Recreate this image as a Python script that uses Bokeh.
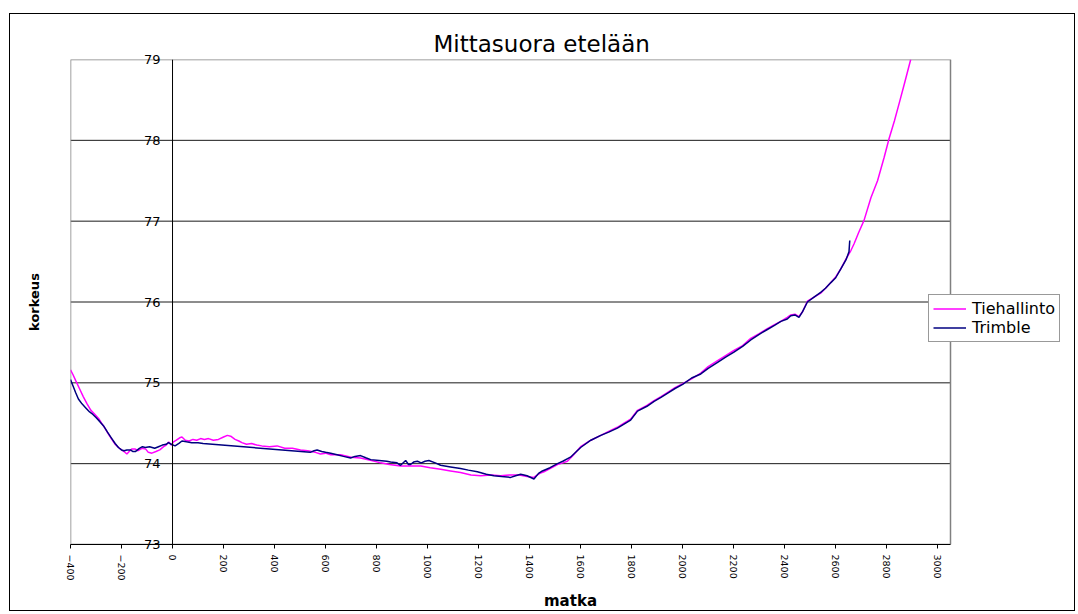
from bokeh.plotting import figure
from bokeh.models import Range1d, FixedTicker, Span, Legend, LegendItem
from bokeh.embed import file_html
from bokeh.resources import INLINE

title_text = "Mittasuora etelään"
x_title = "matka"
y_title = "korkeus"
series_names = ["Tiehallinto", "Trimble"]

x_ticks = [-400, -200, 0, 200, 400, 600, 800, 1000, 1200, 1400, 1600, 1800,
           2000, 2200, 2400, 2600, 2800, 3000]
y_ticks = [73, 74, 75, 76, 77, 78, 79]

tie_x = [-400, -390, -380, -365, -350, -335, -320, -305, -290, -278, -265, -250,
         -238, -225, -212, -200, -190, -179, -170, -160, -146, -135, -120, -105,
         -95, -81, -65, -50, -35, -25, -15, -5, 4, 15, 28, 37, 50, 65, 80, 95,
         110, 125, 141, 160, 180, 200, 215, 228, 245, 260, 272, 290, 310, 330,
         350, 380, 410, 440, 470, 502, 530, 560, 580, 600, 620, 659, 700, 737,
         780, 816, 850, 894, 930, 973, 1010, 1051, 1090, 1129, 1170, 1208, 1250,
         1286, 1320, 1360, 1390, 1416, 1440, 1456, 1480, 1509, 1530, 1548, 1570,
         1600, 1640, 1679, 1710, 1744, 1770, 1796, 1823, 1860, 1888, 1915, 1940,
         1970, 2000, 2035, 2071, 2100, 2140, 2170, 2201, 2235, 2267, 2300, 2332,
         2360, 2385, 2410, 2424, 2440, 2456, 2470, 2489, 2515, 2541, 2560, 2581,
         2600, 2620, 2640, 2660, 2672, 2690, 2711, 2738, 2764, 2790, 2809, 2830,
         2849, 2870, 2894]
tie_y = [75.16, 75.10, 75.03, 74.93, 74.83, 74.74, 74.66, 74.61, 74.56, 74.50,
         74.44, 74.36, 74.30, 74.24, 74.20, 74.17, 74.15, 74.12, 74.15, 74.18,
         74.18, 74.16, 74.19, 74.18, 74.14, 74.13, 74.15, 74.17, 74.21, 74.23,
         74.27, 74.23, 74.27, 74.29, 74.32, 74.33, 74.29, 74.28, 74.30, 74.29,
         74.31, 74.30, 74.31, 74.29, 74.30, 74.33, 74.35, 74.34, 74.30, 74.28,
         74.26, 74.24, 74.25, 74.23, 74.22, 74.21, 74.22, 74.19, 74.19, 74.17,
         74.16, 74.14, 74.12, 74.13, 74.11, 74.11, 74.08, 74.07, 74.04, 74.01,
         73.99, 73.97, 73.97, 73.97, 73.95, 73.93, 73.91, 73.89, 73.86, 73.85,
         73.86, 73.85, 73.86, 73.86, 73.84, 73.83, 73.88, 73.90, 73.94, 73.99,
         74.01, 74.03, 74.10, 74.21, 74.29, 74.35, 74.40, 74.45, 74.50, 74.55,
         74.66, 74.72, 74.78, 74.83, 74.88, 74.94, 74.99, 75.05, 75.12, 75.20,
         75.28, 75.34, 75.40, 75.46, 75.55, 75.61, 75.67, 75.72, 75.76, 75.81,
         75.84, 75.85, 75.82, 75.88, 76.01, 76.06, 76.11, 76.17, 76.24, 76.31,
         76.41, 76.53, 76.64, 76.72, 76.86, 77.01, 77.29, 77.50, 77.79, 78.02,
         78.24, 78.46, 78.71, 79.00]

trim_x = [-400, -390, -380, -369, -355, -340, -325, -316, -300, -285, -271, -255,
          -240, -225, -212, -200, -190, -179, -165, -155, -146, -130, -118, -107,
          -90, -70, -55, -40, -25, -16, -5, 10, 25, 37, 55, 75, 100, 120, 540,
          555, 567, 585, 600, 620, 645, 670, 698, 715, 737, 760, 777, 810, 840,
          855, 880, 894, 914, 925, 933, 945, 960, 975, 990, 1005, 1030, 1051,
          1090, 1129, 1160, 1195, 1230, 1260, 1290, 1326, 1345, 1365, 1390, 1417,
          1435, 1450, 1480, 1509, 1530, 1560, 1600, 1640, 1679, 1710, 1744, 1770,
          1796, 1823, 1860, 1888, 1915, 1940, 1970, 2000, 2035, 2071, 2100, 2140,
          2170, 2201, 2235, 2267, 2300, 2332, 2360, 2385, 2410, 2424, 2440, 2456,
          2470, 2489, 2515, 2541, 2560, 2581, 2600, 2620, 2640, 2652, 2655]
trim_y = [75.04, 74.96, 74.88, 74.80, 74.74, 74.69, 74.64, 74.62, 74.57, 74.52,
          74.47, 74.39, 74.32, 74.25, 74.20, 74.17, 74.16, 74.17, 74.17, 74.15,
          74.15, 74.19, 74.21, 74.20, 74.21, 74.19, 74.21, 74.23, 74.24, 74.26,
          74.24, 74.22, 74.25, 74.28, 74.27, 74.26, 74.26, 74.25, 74.14, 74.16,
          74.17, 74.15, 74.14, 74.13, 74.11, 74.09, 74.07, 74.09, 74.10, 74.07,
          74.05, 74.04, 74.03, 74.02, 74.01, 73.98, 74.04, 73.99, 73.99, 74.02,
          74.03, 74.01, 74.03, 74.04, 74.01, 73.98, 73.96, 73.94, 73.92, 73.90,
          73.87, 73.85, 73.84, 73.83, 73.85, 73.87, 73.85, 73.81, 73.88, 73.91,
          73.95, 74.00, 74.03, 74.08, 74.20, 74.29, 74.35, 74.39, 74.44, 74.49,
          74.54, 74.65, 74.71, 74.77, 74.82, 74.87, 74.93, 74.98, 75.06, 75.11,
          75.18, 75.26, 75.32, 75.38, 75.45, 75.53, 75.60, 75.66, 75.71, 75.76,
          75.79, 75.83, 75.84, 75.81, 75.88, 76.00, 76.06, 76.12, 76.17, 76.24,
          76.30, 76.41, 76.52, 76.62, 76.76]

# plot area (Excel "plot area") and the wider drawing frame that also hosts the legend
X_LO, X_HI = -400, 3050
Y_LO, Y_HI = 73, 79
PLOT_W = 880            # pixels covered by X_LO..X_HI
FRAME_W = 1000          # frame width (extra room on the right for the legend)
X_VIEW_HI = X_LO + (X_HI - X_LO) * FRAME_W / PLOT_W
FONT = "DejaVu Sans"

p = figure(width=1066, height=598, output_backend="svg", toolbar_location=None,
           x_range=Range1d(X_LO, X_VIEW_HI), y_range=Range1d(Y_LO, Y_HI),
           min_border_left=60, min_border_right=6, min_border_top=45,
           min_border_bottom=59)
p.margin = (13, 0, 0, 9)
p.styles = {"border": "1px solid black"}
p.background_fill_color = "white"
p.border_fill_color = "white"
p.outline_line_color = None

# title
p.title.text = title_text
p.title.align = "left"
p.title.offset = 363
p.title.standoff = 6
p.title.text_font = FONT
p.title.text_font_size = "23px"
p.title.text_font_style = "normal"
p.title.text_color = "black"

# x axis
xa = p.xaxis[0]
xa.ticker = FixedTicker(ticks=x_ticks)
xa.bounds = (X_LO, X_HI)
xa.major_label_orientation = "vertical"
xa.major_label_text_font = FONT
xa.major_label_text_font_size = "9.5px"
xa.major_label_text_color = "black"
xa.major_label_standoff = 6
xa.major_tick_in = 0
xa.major_tick_out = 4
xa.minor_tick_line_color = None
xa.axis_line_color = "black"
xa.major_tick_line_color = "black"
xa.axis_label = x_title
xa.axis_label_standoff = 8
xa.axis_label_text_font = FONT
xa.axis_label_text_font_size = "15px"
xa.axis_label_text_font_style = "bold"
xa.axis_label_text_color = "black"

# y axis: value labels drawn beside the vertical axis at x = 0
ya = p.yaxis[0]
ya.ticker = FixedTicker(ticks=y_ticks)
ya.axis_line_color = None
ya.major_tick_line_color = None
ya.minor_tick_line_color = None
ya.major_tick_in = 0
ya.major_tick_out = 0
ya.major_label_standoff = -90
ya.major_label_text_font = FONT
ya.major_label_text_font_size = "13px"
ya.major_label_text_color = "black"
ya.axis_label = y_title
ya.axis_label_standoff = 99
ya.axis_label_text_font = FONT
ya.axis_label_text_font_size = "13px"
ya.axis_label_text_font_style = "bold"
ya.axis_label_text_color = "black"

p.xgrid.visible = False
p.ygrid.visible = False

# horizontal gridlines limited to the plot area
grid_y = y_ticks[1:-1]
p.segment(x0=[X_LO] * len(grid_y), x1=[X_HI] * len(grid_y), y0=grid_y, y1=grid_y,
          line_color="#1a1a1a", line_width=1)
# plot-area border
p.quad(left=[X_LO], right=[X_HI], bottom=[Y_LO], top=[Y_HI],
       fill_color=None, line_color="#808080", line_width=1.5)

p.add_layout(Span(location=0, dimension="height", line_color="black", line_width=1))

r1 = p.line(tie_x, tie_y, line_color="#FF00FF", line_width=1.5)
r2 = p.line(trim_x, trim_y, line_color="#000080", line_width=1.5)

legend = Legend(items=[LegendItem(label=series_names[0], renderers=[r1]),
                       LegendItem(label=series_names[1], renderers=[r2])],
                location=(858, 202))
legend.label_text_font = FONT
legend.label_text_font_size = "16px"
legend.label_text_color = "black"
legend.glyph_width = 33
legend.glyph_height = 17
legend.label_height = 17
legend.label_standoff = 6
legend.spacing = 0
legend.padding = 4
legend.margin = 0
legend.border_line_color = "#333333"
legend.border_line_width = 1
legend.background_fill_color = "white"
legend.background_fill_alpha = 1
p.add_layout(legend, "center")

open("out.html", "w").write(file_html(p, INLINE))
